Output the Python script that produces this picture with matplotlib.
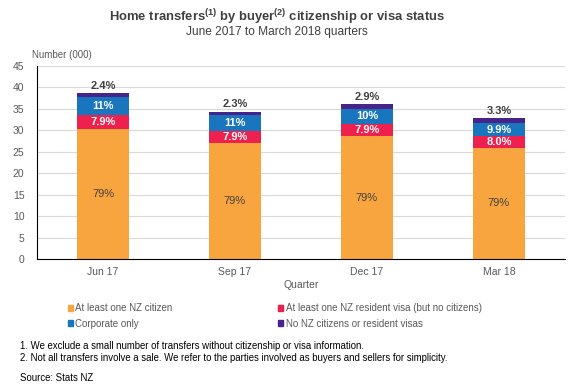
import matplotlib.pyplot as plt
import numpy as np
from matplotlib.patches import Patch

plt.rcParams["font.family"] = ["Liberation Sans", "DejaVu Sans"]
plt.rcParams["mathtext.fontset"] = "custom"
plt.rcParams["mathtext.rm"] = "Liberation Sans"
plt.rcParams["mathtext.bf"] = "Liberation Sans:bold"

# values in thousands
quarters = ["Jun 17", "Sep 17", "Dec 17", "Mar 18"]
citizen = [30.4, 27.1, 28.6, 25.9]
resident = [3.1, 2.7, 2.85, 2.65]
corporate = [4.2, 3.75, 3.6, 3.25]
no_visa = [0.9, 0.8, 1.05, 1.1]

citizen_pct = ["79%", "79%", "79%", "79%"]
resident_pct = ["7.9%", "7.9%", "7.9%", "8.0%"]
corporate_pct = ["11%", "11%", "10%", "9.9%"]
no_visa_pct = ["2.4%", "2.3%", "2.9%", "3.3%"]

series_names = ["At least one NZ citizen",
                "At least one NZ resident visa (but no citizens)",
                "Corporate only",
                "No NZ citizens or resident visas"]
colors = ["#F9A53F", "#EE204D", "#1976BE", "#47238A"]

grey = "#595959"
dark = "#404040"

fig = plt.figure(figsize=(5.82, 3.90), dpi=100)
ax = fig.add_axes([0.0636, 0.336, 0.907, 0.495])

x = np.arange(len(quarters))
w = 0.4
bottom = np.zeros(len(quarters))
stack = [citizen, resident, corporate, no_visa]
for vals, c in zip(stack, colors):
    ax.bar(x, vals, w, bottom=bottom, color=c, zorder=2)
    bottom = bottom + np.array(vals)

b0 = np.zeros(len(quarters))
b1 = b0 + citizen
b2 = b1 + resident
b3 = b2 + corporate
b4 = b3 + no_visa
for i in range(len(quarters)):
    ax.text(x[i], b0[i] + citizen[i] / 2, citizen_pct[i], ha="center", va="center",
            fontsize=8, color=dark)
    ax.text(x[i], b1[i] + resident[i] / 2, resident_pct[i], ha="center", va="center",
            fontsize=8, color="white", fontweight="bold")
    ax.text(x[i], b2[i] + corporate[i] / 2, corporate_pct[i], ha="center", va="center",
            fontsize=8, color="white", fontweight="bold")
    ax.text(x[i], b4[i] + 0.5, no_visa_pct[i], ha="center", va="bottom",
            fontsize=8, color=dark, fontweight="bold")

ax.set_xlim(-0.5, len(quarters) - 0.5)
ax.set_ylim(0, 45)
ax.set_yticks(np.arange(0, 46, 5))
ax.set_xticks(x)
ax.set_xticklabels(quarters)
ax.tick_params(axis="both", length=0, labelsize=7.5, labelcolor=grey)
ax.tick_params(axis="y", pad=9)
ax.tick_params(axis="x", pad=6)
ax.yaxis.grid(True, color="#D9D9D9", linewidth=0.8, zorder=0)
ax.set_axisbelow(True)
for side in ["top", "right"]:
    ax.spines[side].set_visible(False)
for side in ["left", "bottom"]:
    ax.spines[side].set_color("black")
    ax.spines[side].set_linewidth(0.8)
ax.set_xlabel("Quarter", fontsize=7.5, color=grey, labelpad=2)

fig.text(0.055, 0.845, "Number (000)", fontsize=7, color=grey, va="bottom")

fig.text(0.476, 0.957, r"Home transfers$^{\mathbf{(1)}}$ by buyer$^{\mathbf{(2)}}$ citizenship or visa status",
         ha="center", va="center", fontsize=9.4, fontweight="bold", color=dark)
fig.text(0.476, 0.917, "June 2017 to March 2018 quarters", ha="center", va="center",
         fontsize=8.6, color=dark)

order = [0, 2, 1, 3]
handles = [Patch(color=colors[k]) for k in order]
labels = [series_names[k] for k in order]
fig.legend(handles, labels, ncol=2, loc="upper left", bbox_to_anchor=(0.108, 0.235),
           frameon=False, fontsize=7, labelcolor=grey, handlelength=0.5, handleheight=0.5,
           handletextpad=0.3, columnspacing=10.8, labelspacing=0.55, borderpad=0)

fig.text(0.034, 0.113, "1. We exclude a small number of transfers without citizenship or visa information.",
         fontsize=6.9, color="black", va="center")
fig.text(0.034, 0.082, "2. Not all transfers involve a sale. We refer to the parties involved as buyers and sellers for simplicity.",
         fontsize=6.9, color="black", va="center")
fig.text(0.034, 0.031, "Source: Stats NZ", fontsize=6.9, color="black", va="center")

fig.savefig("out.png", dpi=100)
